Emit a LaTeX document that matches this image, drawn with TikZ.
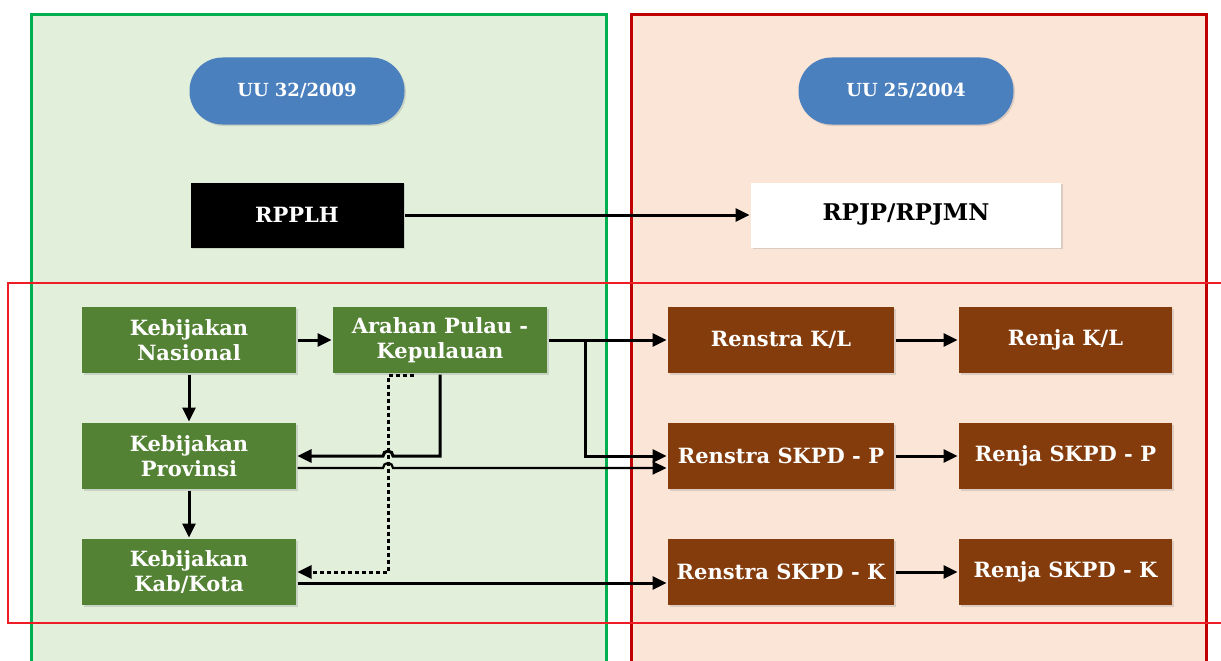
\documentclass[tikz,border=0pt]{standalone}
\usepackage{fontspec}
\setmainfont{DejaVu Serif}
\usetikzlibrary{arrows.meta,positioning,shadows}

\definecolor{panelhijau}{HTML}{E2EFDA}
\definecolor{garishijau}{HTML}{00B050}
\definecolor{panelpeach}{HTML}{FBE5D6}
\definecolor{garismerah}{HTML}{C00000}
\definecolor{merahterang}{HTML}{EE1C24}
\definecolor{kotakhijau}{HTML}{548235}
\definecolor{kotakcoklat}{HTML}{843C0C}
\definecolor{pilbiru}{HTML}{4B80BE}

\tikzset{
  kotak/.style={rectangle,inner sep=0pt,minimum height=66pt,align=center,
                text=white,drop shadow={opacity=0.25,shadow xshift=1.5pt,shadow yshift=-1.5pt}},
  hijau/.style={kotak,fill=kotakhijau,minimum width=214pt},
  coklat/.style={kotak,fill=kotakcoklat,minimum width=226pt},
  pil/.style={kotak,fill=pilbiru,minimum width=215pt,minimum height=67pt,
              rounded corners=33pt,font=\bfseries\fontsize{18}{20}\selectfont},
  putus/.style={line width=3pt,dash pattern=on 4pt off 3pt}
}

\begin{document}
\begin{tikzpicture}[x=1pt,y=-1pt,>={Triangle[length=14pt,width=13pt]},
                    line width=3pt,font=\bfseries\fontsize{21}{25}\selectfont,
                    node distance=47pt]

 \useasboundingbox (0,0) rectangle (1221,661);
 \clip (0,0) rectangle (1221,661);

 % panel latar
 \fill[white] (0,0) rectangle (1221,661);
 \fill[panelhijau] (31,15) rectangle (606,680);
 \fill[panelpeach] (631,15) rectangle (1206,680);
 \draw[garishijau,line width=3pt] (31,15) rectangle (606,680);
 \draw[garismerah,line width=3pt] (631,15) rectangle (1206,680);
 \draw[merahterang,line width=2.5pt] (8,283) rectangle (1230,623);

 \node[pil] (uu32) at (297,91) {UU 32/2009};
 \node[pil] (uu25) at (906,91) {UU 25/2004};

 \node[kotak,fill=black,minimum width=213pt,minimum height=65pt] (rpplh) at (297,215) {RPPLH};
 \node[kotak,fill=white,text=black,minimum width=310pt,minimum height=65pt,
       font=\bfseries\fontsize{23}{25}\selectfont] (rpjp) at (906,215) {RPJP/RPJMN};

 \node[hijau] (nas) at (189,340) {Kebijakan\\Nasional};
 \node[hijau] (arahan) at (440,340) {Arahan Pulau -\\Kepulauan};
 \node[hijau] (prov) [below=of nas] {Kebijakan\\Provinsi};
 \node[hijau] (kab) [below=of prov] {Kebijakan\\Kab/Kota};

 \node[coklat] (rkl) at (781,340) {Renstra K/L};
 \node[coklat] (rskpdp) [below=of rkl] {Renstra SKPD - P};
 \node[coklat] (rskpdk) [below=of rskpdp] {Renstra SKPD - K};
 \node[coklat,minimum width=213pt] (renjakl) [right=62pt of rkl] {Renja K/L};
 \node[coklat,minimum width=213pt] (renjap) [right=62pt of rskpdp] {Renja SKPD - P};
 \node[coklat,minimum width=213pt] (renjak) [right=62pt of rskpdk] {Renja SKPD - K};

 \coordinate (jalur) at ([xshift=-52pt]arahan.south);
 \coordinate (cabang) at ([xshift=37pt]arahan.east);

 \draw[->] (rpplh) -- (rpjp);
 \draw[->] (nas) -- (arahan);
 \draw[->] (nas) -- (prov);
 \draw[->] (prov) -- (kab);
 \draw[->] (arahan) -- (rkl);
 \draw[->] (cabang) |- (rskpdp);
 \draw[->] (arahan.south) |- ([xshift=5pt]jalur |- prov.east)
           arc[start angle=0,end angle=180,radius=5pt] -- (prov.east);
 \draw[->,line width=2.2pt] ([yshift=-12pt]prov.east) -- ([xshift=-5pt,yshift=-12pt]jalur |- prov.east)
           arc[start angle=180,end angle=0,radius=5pt] -- ([yshift=-12pt]rskpdp.west);
 \draw[->] ([yshift=-11pt]kab.east) -- ([yshift=-11pt]rskpdk.west);
 \draw[->,putus] ([xshift=-26pt,yshift=-1pt]arahan.south) -- ([yshift=-1pt]jalur) |- (kab.east);

 \draw[->] (rkl) -- (renjakl);
 \draw[->] (rskpdp) -- (renjap);
 \draw[->] (rskpdk) -- (renjak);

\end{tikzpicture}
\end{document}
